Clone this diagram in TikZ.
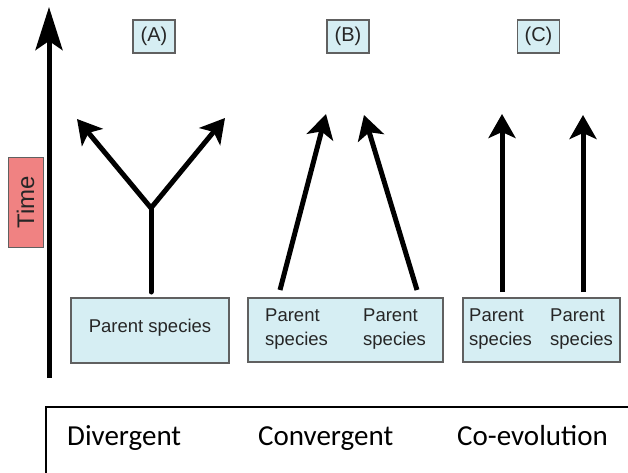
\documentclass[tikz,border=0pt]{standalone}
\usepackage{fontspec}
\setmainfont{Liberation Sans}
\newfontfamily\calibrifont{Carlito}
\usetikzlibrary{arrows.meta}
\definecolor{boxblue}{HTML}{D6EEF3}
\definecolor{boxedge}{HTML}{606060}
\definecolor{timered}{HTML}{F08282}
\definecolor{txt}{HTML}{262626}
\tikzset{
  x=1pt, y=-1pt,
  speciesbox/.style={draw=boxedge, line width=1.6pt, fill=boxblue, inner sep=0pt, anchor=center},
  labelbox/.style={draw=boxedge, line width=1.6pt, fill=boxblue, inner sep=0pt, minimum width=42pt, minimum height=33pt, text=txt, font=\fontsize{20}{22}\selectfont},
  sptext/.style={inner sep=0pt, align=left, text=txt, font=\fontsize{18.5}{24}\selectfont},
  evo/.style={line width=5pt, -{Stealth[length=24pt,width=27pt,inset=6pt]}},
  bottomtext/.style={inner sep=0pt, anchor=base west, font=\calibrifont\fontsize{29}{34}\selectfont},
}
\begin{document}
\begin{tikzpicture}
\useasboundingbox (0,0) rectangle (628,473);
\fill[white] (0,0) rectangle (628,473);

% time axis
\coordinate (axb) at (49,378);
\coordinate (axt) at (49,7);
\draw[line width=5pt, -{Stealth[length=43pt,width=27pt,inset=9pt]}] (axb) -- (axt);
\node[draw=boxedge, line width=1pt, fill=timered, inner sep=0pt, minimum width=35pt, minimum height=89pt, anchor=center] (time) at (25.5,202.5) {};
\node[rotate=90, text=txt, font=\fontsize{24}{26}\selectfont, inner sep=0pt] (timetxt) at (time.center) {Time};

% labels
\node[labelbox] (la) at (154,36.5) {(A)};
\node[labelbox] (lb) at (348,36.5) {(B)};
\node[labelbox] (lc) at (538.5,36.5) {(C)};

% species boxes
\node[speciesbox, minimum width=158pt, minimum height=65pt] (boxa) at (150,330.5) {};
\node[sptext] (ta) at (150,328) {Parent species};

\node[speciesbox, minimum width=195pt, minimum height=64pt] (boxb) at (345.5,330) {};
\node[sptext, anchor=west] (tb1) at (265,329) {Parent\\species};
\node[sptext, anchor=west] (tb2) at (363,329) {Parent\\species};

\node[speciesbox, minimum width=157pt, minimum height=64pt] (boxc) at (541.5,330) {};
\node[sptext, anchor=west] (tc1) at (469,329) {Parent\\species};
\node[sptext, anchor=west] (tc2) at (550,329) {Parent\\species};

% (A) divergent
\coordinate (sa) at (151,292);
\coordinate (ja) at (151,208);
\coordinate (al) at (77,119);
\coordinate (ar) at (225,118);
\draw[line width=5pt, line cap=round] (sa) -- (ja);
\draw[evo] (ja) -- (al);
\draw[evo] (ja) -- (ar);

% (B) convergent
\coordinate (bl0) at (280,290);
\coordinate (bl1) at (326,114);
\coordinate (br0) at (417,290);
\coordinate (br1) at (364,115);
\draw[evo] (bl0) -- (bl1);
\draw[evo] (br0) -- (br1);

% (C) co-evolution
\coordinate (cl0) at (502,292);
\coordinate (cl1) at (502,114);
\coordinate (cr0) at (583,292);
\coordinate (cr1) at (583,115);
\draw[evo] (cl0) -- (cl1);
\draw[evo] (cr0) -- (cr1);

% bottom table
\coordinate (tbl) at (46,474);
\coordinate (tcorner) at (46,407);
\coordinate (tbr) at (629,407);
\draw[line width=2pt] (tbl) -- (tcorner) -- (tbr);
\node[bottomtext] (div) at (67,445) {Divergent};
\node[bottomtext] (conv) at (258,445) {Convergent};
\node[bottomtext] (coev) at (457,445) {Co-evolution};
\end{tikzpicture}
\end{document}
